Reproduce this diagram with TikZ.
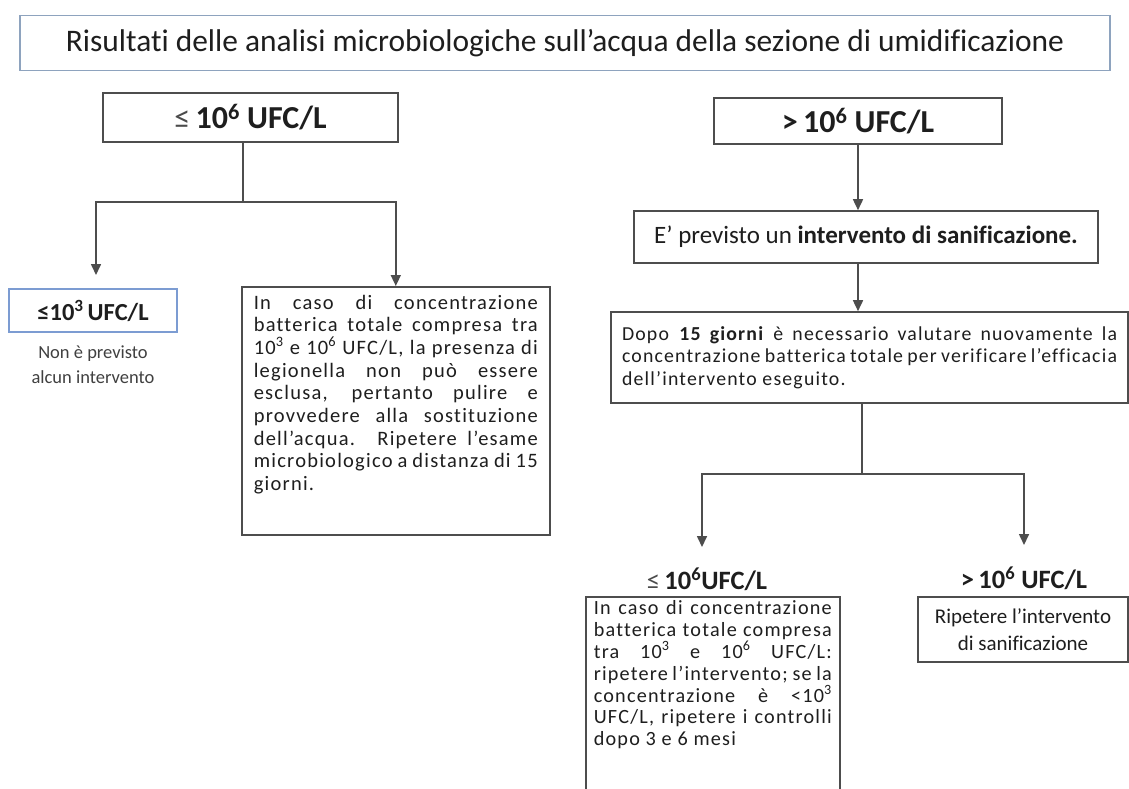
\documentclass[tikz,border=0pt]{standalone}
\usepackage{fontspec}
\setmainfont{Carlito}[Ligatures=NoCommon]
\newfontfamily\trackfont[LetterSpace=6,Ligatures=NoCommon]{Carlito}
\usetikzlibrary{arrows.meta}
\definecolor{linec}{HTML}{4D4D4D}
\definecolor{txt}{HTML}{1E1E1E}
\definecolor{titleb}{HTML}{8EA3BE}
\definecolor{blueb}{HTML}{7C9CD2}
\newcommand\jl[1]{\makebox[\hsize][s]{#1}}
\tikzset{
  box/.style={draw=linec, line width=1.6pt, text=txt, inner sep=0pt},
  conn/.style={draw=linec, line width=1.6pt},
  arr/.style={draw=linec, line width=1.6pt, -{Triangle[width=10pt,length=11pt]}},
  hdr/.style={text=txt, font=\bfseries\fontsize{32}{36}\selectfont},
  sub/.style={text=txt, font=\bfseries\fontsize{26.5}{30}\selectfont}
}
\begin{document}
\begin{tikzpicture}[x=1pt,y=-1pt]
\fill[white] (0,0) rectangle (1129,788);
\useasboundingbox (0,0) rectangle (1129,788);

\node[box, draw=titleb, minimum width=1090pt, minimum height=55pt,
  font=\fontsize{31.4}{36}\selectfont] (title) at (565,43)
  {Risultati delle analisi microbiologiche sull’acqua della sezione di umidificazione};

% left branch
\node[box, hdr, minimum width=295pt, minimum height=49pt] (tl) at (250.5,117.5)
  {{\mdseries\color{txt!80} ≤}\,10\textsuperscript{6} UFC/L};
\coordinate (jL) at (243,202);
\coordinate (aL) at (96,275);
\node[box, draw=blueb, line width=1.2pt, minimum width=168pt, minimum height=43pt,
  font=\bfseries\fontsize{24.5}{28}\selectfont] (b3) at (93,310.5)
  {≤10\textsuperscript{3}\,UFC/L};
\node[text=txt!85, align=center, font=\fontsize{18.5}{25}\selectfont] (none) at (93,365)
  {Non è previsto\\alcun intervento};
\node[box, anchor=north west, inner xsep=12pt, inner ysep=8pt,
  font=\trackfont\fontsize{20.5}{22.7}\selectfont] (p1) at (241,286)
  {\parbox[t][232pt][t]{284pt}{%
  \jl{In caso di concentrazione}\\
  \jl{batterica totale compresa tra}\\
  \jl{10\textsuperscript{3} e 10\textsuperscript{6} UFC/L, la presenza di}\\
  \jl{legionella non può essere}\\
  \jl{esclusa, pertanto pulire e}\\
  \jl{provvedere alla sostituzione}\\
  \jl{dell’acqua. Ripetere l’esame}\\
  \jl{microbiologico a distanza di 15}\\
  giorni.}};
\draw[conn] (jL |- tl.south) -- (jL);
\draw[arr] (jL) -| (aL);
\draw[arr] (jL) -| (p1.north);

% right branch
\node[box, hdr, minimum width=288pt, minimum height=46pt] (tr) at (858,121)
  {>\,10\textsuperscript{6} UFC/L};
\node[box, minimum width=464pt, minimum height=52pt, font=\fontsize{25}{30}\selectfont] (e) at (866,237)
  {E’ previsto un \textbf{intervento di sanificazione.}};
\node[box, minimum width=517pt, minimum height=91pt,
  font=\trackfont\fontsize{19.8}{22.3}\selectfont] (d) at (869.5,357.5)
  {\parbox{495pt}{%
  \jl{Dopo \textbf{15 giorni} è necessario valutare nuovamente la}\\
  \jl{concentrazione batterica totale per verificare l’efficacia}\\
  dell’intervento eseguito.}};
\draw[arr] (tr.south) -- (tr.south |- e.north);
\draw[arr] (tr.south |- e.south) -- (tr.south |- d.north);
\coordinate (jR) at (862,474);
\coordinate (aB1) at (702,547);
\coordinate (aB2) at (1024,545);
\draw[conn] (jR |- d.south) -- (jR);
\draw[arr] (jR) -| (aB1);
\draw[arr] (jR) -| (aB2);

\node[sub] (l1) at (707,579) {{\mdseries\color{txt!80} ≤}\,10\textsuperscript{6}UFC/L};
\node[sub] (l2) at (1024,578) {>\,10\textsuperscript{6} UFC/L};

\node[box, anchor=north west, inner xsep=8pt, inner ysep=4pt,
  font=\trackfont\fontsize{20.2}{21.8}\selectfont] (bl) at (585,596)
  {\parbox[t][205pt][t]{238pt}{%
  \jl{In caso di concentrazione}\\
  \jl{batterica totale compresa}\\
  \jl{tra 10\textsuperscript{3} e 10\textsuperscript{6} UFC/L:}\\
  \jl{ripetere l’intervento; se la}\\
  \jl{concentrazione è <10\textsuperscript{3}}\\
  \jl{UFC/L, ripetere i controlli}\\
  dopo 3 e 6 mesi}};
\node[box, minimum width=210pt, minimum height=65pt, align=center,
  font=\fontsize{21}{27}\selectfont] (br) at (1023,629.5)
  {Ripetere l’intervento\\di sanificazione};
\end{tikzpicture}
\end{document}
